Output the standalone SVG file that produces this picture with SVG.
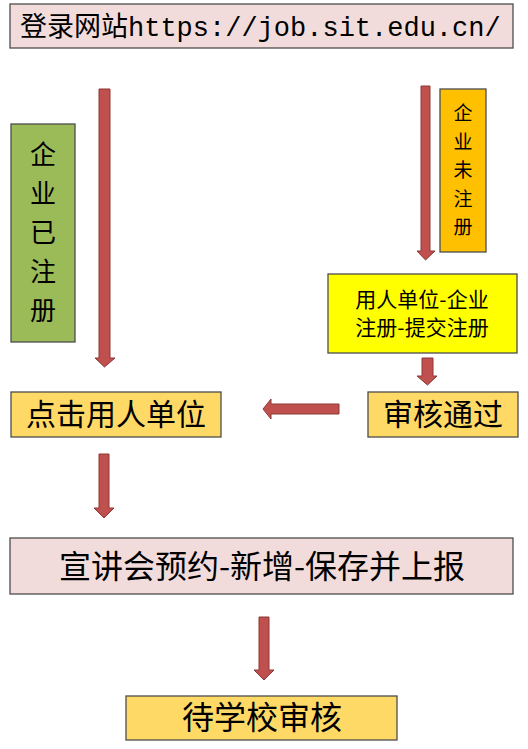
<svg xmlns="http://www.w3.org/2000/svg" width="528" height="749" viewBox="0 0 528 749">
<style>
.box{stroke:#4d4d4d;stroke-width:1.3}
.t{font-family:"Noto Sans CJK SC","Noto Sans CJK JP",sans-serif;fill:#000;text-anchor:middle}
.arr{fill:#c0504d;stroke:#8c3836;stroke-width:1}
</style>
<rect width="528" height="749" fill="#fff"/>
<g id="login">
<rect class="box" x="10" y="4" width="503" height="44" fill="#f2dcdb"/>
<text x="20" y="36" font-size="27" style="font-family:'Liberation Mono','Noto Sans CJK SC',monospace">登录网站https://job.sit.edu.cn/</text>
</g>
<g id="registered">
<rect class="box" x="11" y="124" width="64" height="218" fill="#9bbb59"/>
<text class="t" font-size="26" x="43" y="164">企</text>
<text class="t" font-size="26" x="43" y="203">业</text>
<text class="t" font-size="26" x="43" y="242">已</text>
<text class="t" font-size="26" x="43" y="281">注</text>
<text class="t" font-size="26" x="43" y="320">册</text>
</g>
<g id="unregistered">
<rect class="box" x="440" y="89" width="46" height="163" fill="#ffc000"/>
<text class="t" font-size="19" x="463" y="120">企</text>
<text class="t" font-size="19" x="463" y="148.5">业</text>
<text class="t" font-size="19" x="463" y="177">未</text>
<text class="t" font-size="19" x="463" y="205.5">注</text>
<text class="t" font-size="19" x="463" y="234">册</text>
</g>
<g id="register">
<rect class="box" x="328" y="274" width="189" height="79" fill="#ffff00"/>
<text class="t" font-size="21" x="422" y="307">用人单位-企业</text>
<text class="t" font-size="21" x="422" y="335">注册-提交注册</text>
</g>
<g id="approved">
<rect class="box" x="368" y="392" width="150" height="45" fill="#ffd966"/>
<text class="t" x="443" y="425" font-size="30">审核通过</text>
</g>
<g id="click">
<rect class="box" x="11" y="392" width="210" height="45" fill="#ffd966"/>
<text class="t" x="116" y="425" font-size="30">点击用人单位</text>
</g>
<g id="booking">
<rect class="box" x="10" y="538" width="503" height="56" fill="#f2dcdb"/>
<text class="t" x="262" y="578" font-size="32">宣讲会预约-新增-保存并上报</text>
</g>
<g id="pending">
<rect class="box" x="126" y="696" width="271" height="44" fill="#ffd966"/>
<text class="t" x="262" y="729" font-size="32">待学校审核</text>
</g>
<g id="connectors">
<polygon class="arr" points="99,89 110,89 110,358 115,358 104.5,367 95,358 99,358"/>
<polygon class="arr" points="421,86 430,86 430,251 435,251 425.5,260 417,251 421,251"/>
<polygon class="arr" points="422,358 433,358 433,376 437,376 427.5,385 417,376 422,376"/>
<polygon class="arr" points="339,404 339,414 271,414 271,419 263,409 271,399 271,404"/>
<polygon class="arr" points="99,454 109,454 109,508 114,508 104,518 94,508 99,508"/>
<polygon class="arr" points="259,617 269,617 269,670 274,670 264,680 254,670 259,670"/>
</g>
</svg>
